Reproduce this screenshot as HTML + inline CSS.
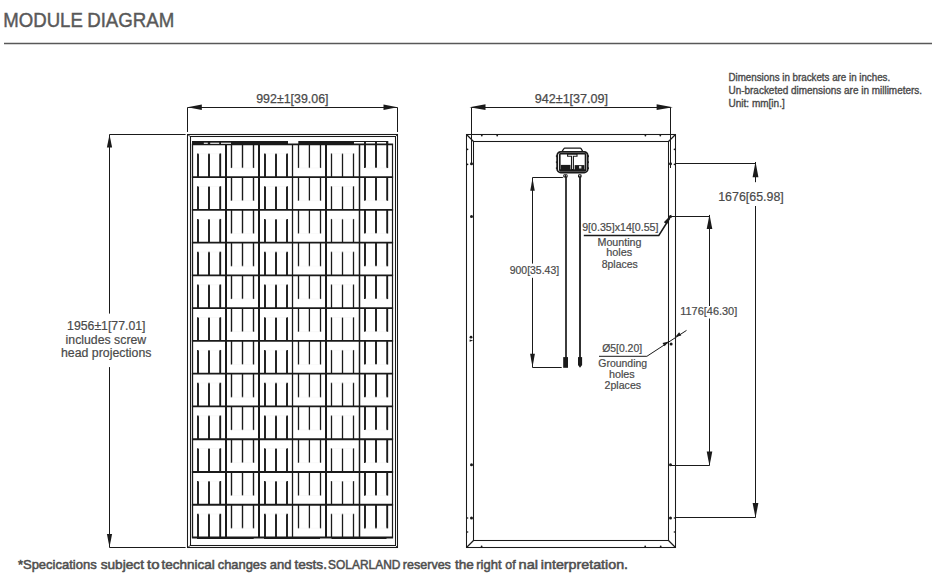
<!DOCTYPE html>
<html><head><meta charset="utf-8"><style>
html,body{margin:0;padding:0;background:#fff;}
body{width:939px;height:580px;overflow:hidden;position:relative;font-family:"Liberation Sans",sans-serif;}
svg{position:absolute;left:0;top:0;font-family:"Liberation Sans",sans-serif;}
</style></head><body>
<svg width="939" height="580" viewBox="0 0 939 580">
<line x1="4.00" y1="43.50" x2="932.00" y2="43.50" stroke="#585858" stroke-width="1.35"/>
<rect x="187.5" y="134.5" width="210.0" height="413.0" fill="none" stroke="#1a1a1a" stroke-width="1.05"/>
<rect x="190.5" y="136.5" width="205.0" height="409.0" fill="none" stroke="#1a1a1a" stroke-width="1.05"/>
<line x1="187.50" y1="134.50" x2="191.00" y2="137.00" stroke="#1a1a1a" stroke-width="0.8"/>
<line x1="397.50" y1="134.50" x2="395.00" y2="137.00" stroke="#1a1a1a" stroke-width="0.8"/>
<line x1="187.50" y1="547.50" x2="191.00" y2="545.00" stroke="#1a1a1a" stroke-width="0.8"/>
<line x1="397.50" y1="547.50" x2="395.00" y2="545.00" stroke="#1a1a1a" stroke-width="0.8"/>
<line x1="191.90" y1="144.40" x2="393.10" y2="144.40" stroke="#1a1a1a" stroke-width="1.8"/>
<line x1="191.90" y1="177.16" x2="393.10" y2="177.16" stroke="#1a1a1a" stroke-width="1.8"/>
<line x1="191.90" y1="209.92" x2="393.10" y2="209.92" stroke="#1a1a1a" stroke-width="1.8"/>
<line x1="191.90" y1="242.68" x2="393.10" y2="242.68" stroke="#1a1a1a" stroke-width="1.8"/>
<line x1="191.90" y1="275.43" x2="393.10" y2="275.43" stroke="#1a1a1a" stroke-width="1.8"/>
<line x1="191.90" y1="308.19" x2="393.10" y2="308.19" stroke="#1a1a1a" stroke-width="1.8"/>
<line x1="191.90" y1="340.95" x2="393.10" y2="340.95" stroke="#1a1a1a" stroke-width="1.8"/>
<line x1="191.90" y1="373.71" x2="393.10" y2="373.71" stroke="#1a1a1a" stroke-width="1.8"/>
<line x1="191.90" y1="406.47" x2="393.10" y2="406.47" stroke="#1a1a1a" stroke-width="1.8"/>
<line x1="191.90" y1="439.23" x2="393.10" y2="439.23" stroke="#1a1a1a" stroke-width="1.8"/>
<line x1="191.90" y1="471.98" x2="393.10" y2="471.98" stroke="#1a1a1a" stroke-width="1.8"/>
<line x1="191.90" y1="504.74" x2="393.10" y2="504.74" stroke="#1a1a1a" stroke-width="1.8"/>
<line x1="191.90" y1="537.50" x2="393.10" y2="537.50" stroke="#1a1a1a" stroke-width="1.8"/>
<line x1="192.50" y1="144.40" x2="192.50" y2="537.50" stroke="#1a1a1a" stroke-width="1.3"/>
<line x1="226.00" y1="144.40" x2="226.00" y2="537.50" stroke="#1a1a1a" stroke-width="2.0"/>
<line x1="259.00" y1="144.40" x2="259.00" y2="537.50" stroke="#1a1a1a" stroke-width="2.0"/>
<line x1="292.50" y1="144.40" x2="292.50" y2="537.50" stroke="#1a1a1a" stroke-width="1.3"/>
<line x1="326.00" y1="144.40" x2="326.00" y2="537.50" stroke="#1a1a1a" stroke-width="2.0"/>
<line x1="359.50" y1="144.40" x2="359.50" y2="537.50" stroke="#1a1a1a" stroke-width="1.5"/>
<line x1="392.50" y1="144.40" x2="392.50" y2="537.50" stroke="#1a1a1a" stroke-width="1.2"/>
<line x1="198.00" y1="153.40" x2="198.00" y2="177.16" stroke="#1a1a1a" stroke-width="1.9"/>
<line x1="209.00" y1="153.40" x2="209.00" y2="177.16" stroke="#1a1a1a" stroke-width="1.9"/>
<line x1="220.20" y1="153.40" x2="220.20" y2="177.16" stroke="#1a1a1a" stroke-width="1.9"/>
<line x1="198.00" y1="186.16" x2="198.00" y2="209.92" stroke="#1a1a1a" stroke-width="1.9"/>
<line x1="209.00" y1="186.16" x2="209.00" y2="209.92" stroke="#1a1a1a" stroke-width="1.9"/>
<line x1="220.20" y1="186.16" x2="220.20" y2="209.92" stroke="#1a1a1a" stroke-width="1.9"/>
<line x1="198.00" y1="218.92" x2="198.00" y2="242.68" stroke="#1a1a1a" stroke-width="1.9"/>
<line x1="209.00" y1="218.92" x2="209.00" y2="242.68" stroke="#1a1a1a" stroke-width="1.9"/>
<line x1="220.20" y1="218.92" x2="220.20" y2="242.68" stroke="#1a1a1a" stroke-width="1.9"/>
<line x1="198.00" y1="251.68" x2="198.00" y2="275.43" stroke="#1a1a1a" stroke-width="1.9"/>
<line x1="209.00" y1="251.68" x2="209.00" y2="275.43" stroke="#1a1a1a" stroke-width="1.9"/>
<line x1="220.20" y1="251.68" x2="220.20" y2="275.43" stroke="#1a1a1a" stroke-width="1.9"/>
<line x1="198.00" y1="284.43" x2="198.00" y2="308.19" stroke="#1a1a1a" stroke-width="1.9"/>
<line x1="209.00" y1="284.43" x2="209.00" y2="308.19" stroke="#1a1a1a" stroke-width="1.9"/>
<line x1="220.20" y1="284.43" x2="220.20" y2="308.19" stroke="#1a1a1a" stroke-width="1.9"/>
<line x1="198.00" y1="317.19" x2="198.00" y2="340.95" stroke="#1a1a1a" stroke-width="1.9"/>
<line x1="209.00" y1="317.19" x2="209.00" y2="340.95" stroke="#1a1a1a" stroke-width="1.9"/>
<line x1="220.20" y1="317.19" x2="220.20" y2="340.95" stroke="#1a1a1a" stroke-width="1.9"/>
<line x1="198.00" y1="349.95" x2="198.00" y2="373.71" stroke="#1a1a1a" stroke-width="1.9"/>
<line x1="209.00" y1="349.95" x2="209.00" y2="373.71" stroke="#1a1a1a" stroke-width="1.9"/>
<line x1="220.20" y1="349.95" x2="220.20" y2="373.71" stroke="#1a1a1a" stroke-width="1.9"/>
<line x1="198.00" y1="382.71" x2="198.00" y2="406.47" stroke="#1a1a1a" stroke-width="1.9"/>
<line x1="209.00" y1="382.71" x2="209.00" y2="406.47" stroke="#1a1a1a" stroke-width="1.9"/>
<line x1="220.20" y1="382.71" x2="220.20" y2="406.47" stroke="#1a1a1a" stroke-width="1.9"/>
<line x1="198.00" y1="415.47" x2="198.00" y2="439.23" stroke="#1a1a1a" stroke-width="1.9"/>
<line x1="209.00" y1="415.47" x2="209.00" y2="439.23" stroke="#1a1a1a" stroke-width="1.9"/>
<line x1="220.20" y1="415.47" x2="220.20" y2="439.23" stroke="#1a1a1a" stroke-width="1.9"/>
<line x1="198.00" y1="448.23" x2="198.00" y2="471.98" stroke="#1a1a1a" stroke-width="1.9"/>
<line x1="209.00" y1="448.23" x2="209.00" y2="471.98" stroke="#1a1a1a" stroke-width="1.9"/>
<line x1="220.20" y1="448.23" x2="220.20" y2="471.98" stroke="#1a1a1a" stroke-width="1.9"/>
<line x1="198.00" y1="480.98" x2="198.00" y2="504.74" stroke="#1a1a1a" stroke-width="1.9"/>
<line x1="209.00" y1="480.98" x2="209.00" y2="504.74" stroke="#1a1a1a" stroke-width="1.9"/>
<line x1="220.20" y1="480.98" x2="220.20" y2="504.74" stroke="#1a1a1a" stroke-width="1.9"/>
<line x1="198.00" y1="513.74" x2="198.00" y2="537.50" stroke="#1a1a1a" stroke-width="1.9"/>
<line x1="209.00" y1="513.74" x2="209.00" y2="537.50" stroke="#1a1a1a" stroke-width="1.9"/>
<line x1="220.20" y1="513.74" x2="220.20" y2="537.50" stroke="#1a1a1a" stroke-width="1.9"/>
<line x1="231.50" y1="144.40" x2="231.50" y2="168.06" stroke="#1a1a1a" stroke-width="1.4"/>
<line x1="242.50" y1="144.40" x2="242.50" y2="168.06" stroke="#1a1a1a" stroke-width="1.4"/>
<line x1="253.50" y1="144.40" x2="253.50" y2="168.06" stroke="#1a1a1a" stroke-width="1.4"/>
<line x1="231.50" y1="177.16" x2="231.50" y2="200.82" stroke="#1a1a1a" stroke-width="1.4"/>
<line x1="242.50" y1="177.16" x2="242.50" y2="200.82" stroke="#1a1a1a" stroke-width="1.4"/>
<line x1="253.50" y1="177.16" x2="253.50" y2="200.82" stroke="#1a1a1a" stroke-width="1.4"/>
<line x1="231.50" y1="209.92" x2="231.50" y2="233.58" stroke="#1a1a1a" stroke-width="1.4"/>
<line x1="242.50" y1="209.92" x2="242.50" y2="233.58" stroke="#1a1a1a" stroke-width="1.4"/>
<line x1="253.50" y1="209.92" x2="253.50" y2="233.58" stroke="#1a1a1a" stroke-width="1.4"/>
<line x1="231.50" y1="242.68" x2="231.50" y2="266.33" stroke="#1a1a1a" stroke-width="1.4"/>
<line x1="242.50" y1="242.68" x2="242.50" y2="266.33" stroke="#1a1a1a" stroke-width="1.4"/>
<line x1="253.50" y1="242.68" x2="253.50" y2="266.33" stroke="#1a1a1a" stroke-width="1.4"/>
<line x1="231.50" y1="275.43" x2="231.50" y2="299.09" stroke="#1a1a1a" stroke-width="1.4"/>
<line x1="242.50" y1="275.43" x2="242.50" y2="299.09" stroke="#1a1a1a" stroke-width="1.4"/>
<line x1="253.50" y1="275.43" x2="253.50" y2="299.09" stroke="#1a1a1a" stroke-width="1.4"/>
<line x1="231.50" y1="308.19" x2="231.50" y2="331.85" stroke="#1a1a1a" stroke-width="1.4"/>
<line x1="242.50" y1="308.19" x2="242.50" y2="331.85" stroke="#1a1a1a" stroke-width="1.4"/>
<line x1="253.50" y1="308.19" x2="253.50" y2="331.85" stroke="#1a1a1a" stroke-width="1.4"/>
<line x1="231.50" y1="340.95" x2="231.50" y2="364.61" stroke="#1a1a1a" stroke-width="1.4"/>
<line x1="242.50" y1="340.95" x2="242.50" y2="364.61" stroke="#1a1a1a" stroke-width="1.4"/>
<line x1="253.50" y1="340.95" x2="253.50" y2="364.61" stroke="#1a1a1a" stroke-width="1.4"/>
<line x1="231.50" y1="373.71" x2="231.50" y2="397.37" stroke="#1a1a1a" stroke-width="1.4"/>
<line x1="242.50" y1="373.71" x2="242.50" y2="397.37" stroke="#1a1a1a" stroke-width="1.4"/>
<line x1="253.50" y1="373.71" x2="253.50" y2="397.37" stroke="#1a1a1a" stroke-width="1.4"/>
<line x1="231.50" y1="406.47" x2="231.50" y2="430.12" stroke="#1a1a1a" stroke-width="1.4"/>
<line x1="242.50" y1="406.47" x2="242.50" y2="430.12" stroke="#1a1a1a" stroke-width="1.4"/>
<line x1="253.50" y1="406.47" x2="253.50" y2="430.12" stroke="#1a1a1a" stroke-width="1.4"/>
<line x1="231.50" y1="439.23" x2="231.50" y2="462.88" stroke="#1a1a1a" stroke-width="1.4"/>
<line x1="242.50" y1="439.23" x2="242.50" y2="462.88" stroke="#1a1a1a" stroke-width="1.4"/>
<line x1="253.50" y1="439.23" x2="253.50" y2="462.88" stroke="#1a1a1a" stroke-width="1.4"/>
<line x1="231.50" y1="471.98" x2="231.50" y2="495.64" stroke="#1a1a1a" stroke-width="1.4"/>
<line x1="242.50" y1="471.98" x2="242.50" y2="495.64" stroke="#1a1a1a" stroke-width="1.4"/>
<line x1="253.50" y1="471.98" x2="253.50" y2="495.64" stroke="#1a1a1a" stroke-width="1.4"/>
<line x1="231.50" y1="504.74" x2="231.50" y2="528.40" stroke="#1a1a1a" stroke-width="1.4"/>
<line x1="242.50" y1="504.74" x2="242.50" y2="528.40" stroke="#1a1a1a" stroke-width="1.4"/>
<line x1="253.50" y1="504.74" x2="253.50" y2="528.40" stroke="#1a1a1a" stroke-width="1.4"/>
<line x1="265.00" y1="153.40" x2="265.00" y2="177.16" stroke="#1a1a1a" stroke-width="1.9"/>
<line x1="276.00" y1="153.40" x2="276.00" y2="177.16" stroke="#1a1a1a" stroke-width="1.9"/>
<line x1="287.00" y1="153.40" x2="287.00" y2="177.16" stroke="#1a1a1a" stroke-width="1.9"/>
<line x1="265.00" y1="186.16" x2="265.00" y2="209.92" stroke="#1a1a1a" stroke-width="1.9"/>
<line x1="276.00" y1="186.16" x2="276.00" y2="209.92" stroke="#1a1a1a" stroke-width="1.9"/>
<line x1="287.00" y1="186.16" x2="287.00" y2="209.92" stroke="#1a1a1a" stroke-width="1.9"/>
<line x1="265.00" y1="218.92" x2="265.00" y2="242.68" stroke="#1a1a1a" stroke-width="1.9"/>
<line x1="276.00" y1="218.92" x2="276.00" y2="242.68" stroke="#1a1a1a" stroke-width="1.9"/>
<line x1="287.00" y1="218.92" x2="287.00" y2="242.68" stroke="#1a1a1a" stroke-width="1.9"/>
<line x1="265.00" y1="251.68" x2="265.00" y2="275.43" stroke="#1a1a1a" stroke-width="1.9"/>
<line x1="276.00" y1="251.68" x2="276.00" y2="275.43" stroke="#1a1a1a" stroke-width="1.9"/>
<line x1="287.00" y1="251.68" x2="287.00" y2="275.43" stroke="#1a1a1a" stroke-width="1.9"/>
<line x1="265.00" y1="284.43" x2="265.00" y2="308.19" stroke="#1a1a1a" stroke-width="1.9"/>
<line x1="276.00" y1="284.43" x2="276.00" y2="308.19" stroke="#1a1a1a" stroke-width="1.9"/>
<line x1="287.00" y1="284.43" x2="287.00" y2="308.19" stroke="#1a1a1a" stroke-width="1.9"/>
<line x1="265.00" y1="317.19" x2="265.00" y2="340.95" stroke="#1a1a1a" stroke-width="1.9"/>
<line x1="276.00" y1="317.19" x2="276.00" y2="340.95" stroke="#1a1a1a" stroke-width="1.9"/>
<line x1="287.00" y1="317.19" x2="287.00" y2="340.95" stroke="#1a1a1a" stroke-width="1.9"/>
<line x1="265.00" y1="349.95" x2="265.00" y2="373.71" stroke="#1a1a1a" stroke-width="1.9"/>
<line x1="276.00" y1="349.95" x2="276.00" y2="373.71" stroke="#1a1a1a" stroke-width="1.9"/>
<line x1="287.00" y1="349.95" x2="287.00" y2="373.71" stroke="#1a1a1a" stroke-width="1.9"/>
<line x1="265.00" y1="382.71" x2="265.00" y2="406.47" stroke="#1a1a1a" stroke-width="1.9"/>
<line x1="276.00" y1="382.71" x2="276.00" y2="406.47" stroke="#1a1a1a" stroke-width="1.9"/>
<line x1="287.00" y1="382.71" x2="287.00" y2="406.47" stroke="#1a1a1a" stroke-width="1.9"/>
<line x1="265.00" y1="415.47" x2="265.00" y2="439.23" stroke="#1a1a1a" stroke-width="1.9"/>
<line x1="276.00" y1="415.47" x2="276.00" y2="439.23" stroke="#1a1a1a" stroke-width="1.9"/>
<line x1="287.00" y1="415.47" x2="287.00" y2="439.23" stroke="#1a1a1a" stroke-width="1.9"/>
<line x1="265.00" y1="448.23" x2="265.00" y2="471.98" stroke="#1a1a1a" stroke-width="1.9"/>
<line x1="276.00" y1="448.23" x2="276.00" y2="471.98" stroke="#1a1a1a" stroke-width="1.9"/>
<line x1="287.00" y1="448.23" x2="287.00" y2="471.98" stroke="#1a1a1a" stroke-width="1.9"/>
<line x1="265.00" y1="480.98" x2="265.00" y2="504.74" stroke="#1a1a1a" stroke-width="1.9"/>
<line x1="276.00" y1="480.98" x2="276.00" y2="504.74" stroke="#1a1a1a" stroke-width="1.9"/>
<line x1="287.00" y1="480.98" x2="287.00" y2="504.74" stroke="#1a1a1a" stroke-width="1.9"/>
<line x1="265.00" y1="513.74" x2="265.00" y2="537.50" stroke="#1a1a1a" stroke-width="1.9"/>
<line x1="276.00" y1="513.74" x2="276.00" y2="537.50" stroke="#1a1a1a" stroke-width="1.9"/>
<line x1="287.00" y1="513.74" x2="287.00" y2="537.50" stroke="#1a1a1a" stroke-width="1.9"/>
<line x1="298.50" y1="144.40" x2="298.50" y2="168.06" stroke="#1a1a1a" stroke-width="1.3"/>
<line x1="309.40" y1="144.40" x2="309.40" y2="168.06" stroke="#1a1a1a" stroke-width="1.3"/>
<line x1="320.50" y1="144.40" x2="320.50" y2="168.06" stroke="#1a1a1a" stroke-width="1.3"/>
<line x1="298.50" y1="177.16" x2="298.50" y2="200.82" stroke="#1a1a1a" stroke-width="1.3"/>
<line x1="309.40" y1="177.16" x2="309.40" y2="200.82" stroke="#1a1a1a" stroke-width="1.3"/>
<line x1="320.50" y1="177.16" x2="320.50" y2="200.82" stroke="#1a1a1a" stroke-width="1.3"/>
<line x1="298.50" y1="209.92" x2="298.50" y2="233.58" stroke="#1a1a1a" stroke-width="1.3"/>
<line x1="309.40" y1="209.92" x2="309.40" y2="233.58" stroke="#1a1a1a" stroke-width="1.3"/>
<line x1="320.50" y1="209.92" x2="320.50" y2="233.58" stroke="#1a1a1a" stroke-width="1.3"/>
<line x1="298.50" y1="242.68" x2="298.50" y2="266.33" stroke="#1a1a1a" stroke-width="1.3"/>
<line x1="309.40" y1="242.68" x2="309.40" y2="266.33" stroke="#1a1a1a" stroke-width="1.3"/>
<line x1="320.50" y1="242.68" x2="320.50" y2="266.33" stroke="#1a1a1a" stroke-width="1.3"/>
<line x1="298.50" y1="275.43" x2="298.50" y2="299.09" stroke="#1a1a1a" stroke-width="1.3"/>
<line x1="309.40" y1="275.43" x2="309.40" y2="299.09" stroke="#1a1a1a" stroke-width="1.3"/>
<line x1="320.50" y1="275.43" x2="320.50" y2="299.09" stroke="#1a1a1a" stroke-width="1.3"/>
<line x1="298.50" y1="308.19" x2="298.50" y2="331.85" stroke="#1a1a1a" stroke-width="1.3"/>
<line x1="309.40" y1="308.19" x2="309.40" y2="331.85" stroke="#1a1a1a" stroke-width="1.3"/>
<line x1="320.50" y1="308.19" x2="320.50" y2="331.85" stroke="#1a1a1a" stroke-width="1.3"/>
<line x1="298.50" y1="340.95" x2="298.50" y2="364.61" stroke="#1a1a1a" stroke-width="1.3"/>
<line x1="309.40" y1="340.95" x2="309.40" y2="364.61" stroke="#1a1a1a" stroke-width="1.3"/>
<line x1="320.50" y1="340.95" x2="320.50" y2="364.61" stroke="#1a1a1a" stroke-width="1.3"/>
<line x1="298.50" y1="373.71" x2="298.50" y2="397.37" stroke="#1a1a1a" stroke-width="1.3"/>
<line x1="309.40" y1="373.71" x2="309.40" y2="397.37" stroke="#1a1a1a" stroke-width="1.3"/>
<line x1="320.50" y1="373.71" x2="320.50" y2="397.37" stroke="#1a1a1a" stroke-width="1.3"/>
<line x1="298.50" y1="406.47" x2="298.50" y2="430.12" stroke="#1a1a1a" stroke-width="1.3"/>
<line x1="309.40" y1="406.47" x2="309.40" y2="430.12" stroke="#1a1a1a" stroke-width="1.3"/>
<line x1="320.50" y1="406.47" x2="320.50" y2="430.12" stroke="#1a1a1a" stroke-width="1.3"/>
<line x1="298.50" y1="439.23" x2="298.50" y2="462.88" stroke="#1a1a1a" stroke-width="1.3"/>
<line x1="309.40" y1="439.23" x2="309.40" y2="462.88" stroke="#1a1a1a" stroke-width="1.3"/>
<line x1="320.50" y1="439.23" x2="320.50" y2="462.88" stroke="#1a1a1a" stroke-width="1.3"/>
<line x1="298.50" y1="471.98" x2="298.50" y2="495.64" stroke="#1a1a1a" stroke-width="1.3"/>
<line x1="309.40" y1="471.98" x2="309.40" y2="495.64" stroke="#1a1a1a" stroke-width="1.3"/>
<line x1="320.50" y1="471.98" x2="320.50" y2="495.64" stroke="#1a1a1a" stroke-width="1.3"/>
<line x1="298.50" y1="504.74" x2="298.50" y2="528.40" stroke="#1a1a1a" stroke-width="1.3"/>
<line x1="309.40" y1="504.74" x2="309.40" y2="528.40" stroke="#1a1a1a" stroke-width="1.3"/>
<line x1="320.50" y1="504.74" x2="320.50" y2="528.40" stroke="#1a1a1a" stroke-width="1.3"/>
<line x1="331.50" y1="153.40" x2="331.50" y2="177.16" stroke="#1a1a1a" stroke-width="1.3"/>
<line x1="342.50" y1="153.40" x2="342.50" y2="177.16" stroke="#1a1a1a" stroke-width="1.3"/>
<line x1="353.50" y1="153.40" x2="353.50" y2="177.16" stroke="#1a1a1a" stroke-width="1.3"/>
<line x1="331.50" y1="186.16" x2="331.50" y2="209.92" stroke="#1a1a1a" stroke-width="1.3"/>
<line x1="342.50" y1="186.16" x2="342.50" y2="209.92" stroke="#1a1a1a" stroke-width="1.3"/>
<line x1="353.50" y1="186.16" x2="353.50" y2="209.92" stroke="#1a1a1a" stroke-width="1.3"/>
<line x1="331.50" y1="218.92" x2="331.50" y2="242.68" stroke="#1a1a1a" stroke-width="1.3"/>
<line x1="342.50" y1="218.92" x2="342.50" y2="242.68" stroke="#1a1a1a" stroke-width="1.3"/>
<line x1="353.50" y1="218.92" x2="353.50" y2="242.68" stroke="#1a1a1a" stroke-width="1.3"/>
<line x1="331.50" y1="251.68" x2="331.50" y2="275.43" stroke="#1a1a1a" stroke-width="1.3"/>
<line x1="342.50" y1="251.68" x2="342.50" y2="275.43" stroke="#1a1a1a" stroke-width="1.3"/>
<line x1="353.50" y1="251.68" x2="353.50" y2="275.43" stroke="#1a1a1a" stroke-width="1.3"/>
<line x1="331.50" y1="284.43" x2="331.50" y2="308.19" stroke="#1a1a1a" stroke-width="1.3"/>
<line x1="342.50" y1="284.43" x2="342.50" y2="308.19" stroke="#1a1a1a" stroke-width="1.3"/>
<line x1="353.50" y1="284.43" x2="353.50" y2="308.19" stroke="#1a1a1a" stroke-width="1.3"/>
<line x1="331.50" y1="317.19" x2="331.50" y2="340.95" stroke="#1a1a1a" stroke-width="1.3"/>
<line x1="342.50" y1="317.19" x2="342.50" y2="340.95" stroke="#1a1a1a" stroke-width="1.3"/>
<line x1="353.50" y1="317.19" x2="353.50" y2="340.95" stroke="#1a1a1a" stroke-width="1.3"/>
<line x1="331.50" y1="349.95" x2="331.50" y2="373.71" stroke="#1a1a1a" stroke-width="1.3"/>
<line x1="342.50" y1="349.95" x2="342.50" y2="373.71" stroke="#1a1a1a" stroke-width="1.3"/>
<line x1="353.50" y1="349.95" x2="353.50" y2="373.71" stroke="#1a1a1a" stroke-width="1.3"/>
<line x1="331.50" y1="382.71" x2="331.50" y2="406.47" stroke="#1a1a1a" stroke-width="1.3"/>
<line x1="342.50" y1="382.71" x2="342.50" y2="406.47" stroke="#1a1a1a" stroke-width="1.3"/>
<line x1="353.50" y1="382.71" x2="353.50" y2="406.47" stroke="#1a1a1a" stroke-width="1.3"/>
<line x1="331.50" y1="415.47" x2="331.50" y2="439.23" stroke="#1a1a1a" stroke-width="1.3"/>
<line x1="342.50" y1="415.47" x2="342.50" y2="439.23" stroke="#1a1a1a" stroke-width="1.3"/>
<line x1="353.50" y1="415.47" x2="353.50" y2="439.23" stroke="#1a1a1a" stroke-width="1.3"/>
<line x1="331.50" y1="448.23" x2="331.50" y2="471.98" stroke="#1a1a1a" stroke-width="1.3"/>
<line x1="342.50" y1="448.23" x2="342.50" y2="471.98" stroke="#1a1a1a" stroke-width="1.3"/>
<line x1="353.50" y1="448.23" x2="353.50" y2="471.98" stroke="#1a1a1a" stroke-width="1.3"/>
<line x1="331.50" y1="480.98" x2="331.50" y2="504.74" stroke="#1a1a1a" stroke-width="1.3"/>
<line x1="342.50" y1="480.98" x2="342.50" y2="504.74" stroke="#1a1a1a" stroke-width="1.3"/>
<line x1="353.50" y1="480.98" x2="353.50" y2="504.74" stroke="#1a1a1a" stroke-width="1.3"/>
<line x1="331.50" y1="513.74" x2="331.50" y2="537.50" stroke="#1a1a1a" stroke-width="1.3"/>
<line x1="342.50" y1="513.74" x2="342.50" y2="537.50" stroke="#1a1a1a" stroke-width="1.3"/>
<line x1="353.50" y1="513.74" x2="353.50" y2="537.50" stroke="#1a1a1a" stroke-width="1.3"/>
<line x1="365.00" y1="144.40" x2="365.00" y2="168.06" stroke="#1a1a1a" stroke-width="1.9"/>
<line x1="376.00" y1="144.40" x2="376.00" y2="168.06" stroke="#1a1a1a" stroke-width="1.9"/>
<line x1="387.20" y1="144.40" x2="387.20" y2="168.06" stroke="#1a1a1a" stroke-width="1.9"/>
<line x1="365.00" y1="177.16" x2="365.00" y2="200.82" stroke="#1a1a1a" stroke-width="1.9"/>
<line x1="376.00" y1="177.16" x2="376.00" y2="200.82" stroke="#1a1a1a" stroke-width="1.9"/>
<line x1="387.20" y1="177.16" x2="387.20" y2="200.82" stroke="#1a1a1a" stroke-width="1.9"/>
<line x1="365.00" y1="209.92" x2="365.00" y2="233.58" stroke="#1a1a1a" stroke-width="1.9"/>
<line x1="376.00" y1="209.92" x2="376.00" y2="233.58" stroke="#1a1a1a" stroke-width="1.9"/>
<line x1="387.20" y1="209.92" x2="387.20" y2="233.58" stroke="#1a1a1a" stroke-width="1.9"/>
<line x1="365.00" y1="242.68" x2="365.00" y2="266.33" stroke="#1a1a1a" stroke-width="1.9"/>
<line x1="376.00" y1="242.68" x2="376.00" y2="266.33" stroke="#1a1a1a" stroke-width="1.9"/>
<line x1="387.20" y1="242.68" x2="387.20" y2="266.33" stroke="#1a1a1a" stroke-width="1.9"/>
<line x1="365.00" y1="275.43" x2="365.00" y2="299.09" stroke="#1a1a1a" stroke-width="1.9"/>
<line x1="376.00" y1="275.43" x2="376.00" y2="299.09" stroke="#1a1a1a" stroke-width="1.9"/>
<line x1="387.20" y1="275.43" x2="387.20" y2="299.09" stroke="#1a1a1a" stroke-width="1.9"/>
<line x1="365.00" y1="308.19" x2="365.00" y2="331.85" stroke="#1a1a1a" stroke-width="1.9"/>
<line x1="376.00" y1="308.19" x2="376.00" y2="331.85" stroke="#1a1a1a" stroke-width="1.9"/>
<line x1="387.20" y1="308.19" x2="387.20" y2="331.85" stroke="#1a1a1a" stroke-width="1.9"/>
<line x1="365.00" y1="340.95" x2="365.00" y2="364.61" stroke="#1a1a1a" stroke-width="1.9"/>
<line x1="376.00" y1="340.95" x2="376.00" y2="364.61" stroke="#1a1a1a" stroke-width="1.9"/>
<line x1="387.20" y1="340.95" x2="387.20" y2="364.61" stroke="#1a1a1a" stroke-width="1.9"/>
<line x1="365.00" y1="373.71" x2="365.00" y2="397.37" stroke="#1a1a1a" stroke-width="1.9"/>
<line x1="376.00" y1="373.71" x2="376.00" y2="397.37" stroke="#1a1a1a" stroke-width="1.9"/>
<line x1="387.20" y1="373.71" x2="387.20" y2="397.37" stroke="#1a1a1a" stroke-width="1.9"/>
<line x1="365.00" y1="406.47" x2="365.00" y2="430.12" stroke="#1a1a1a" stroke-width="1.9"/>
<line x1="376.00" y1="406.47" x2="376.00" y2="430.12" stroke="#1a1a1a" stroke-width="1.9"/>
<line x1="387.20" y1="406.47" x2="387.20" y2="430.12" stroke="#1a1a1a" stroke-width="1.9"/>
<line x1="365.00" y1="439.23" x2="365.00" y2="462.88" stroke="#1a1a1a" stroke-width="1.9"/>
<line x1="376.00" y1="439.23" x2="376.00" y2="462.88" stroke="#1a1a1a" stroke-width="1.9"/>
<line x1="387.20" y1="439.23" x2="387.20" y2="462.88" stroke="#1a1a1a" stroke-width="1.9"/>
<line x1="365.00" y1="471.98" x2="365.00" y2="495.64" stroke="#1a1a1a" stroke-width="1.9"/>
<line x1="376.00" y1="471.98" x2="376.00" y2="495.64" stroke="#1a1a1a" stroke-width="1.9"/>
<line x1="387.20" y1="471.98" x2="387.20" y2="495.64" stroke="#1a1a1a" stroke-width="1.9"/>
<line x1="365.00" y1="504.74" x2="365.00" y2="528.40" stroke="#1a1a1a" stroke-width="1.9"/>
<line x1="376.00" y1="504.74" x2="376.00" y2="528.40" stroke="#1a1a1a" stroke-width="1.9"/>
<line x1="387.20" y1="504.74" x2="387.20" y2="528.40" stroke="#1a1a1a" stroke-width="1.9"/>
<line x1="198.00" y1="153.70" x2="220.20" y2="153.70" stroke="#f3f3f3" stroke-width="0.5"/>
<line x1="198.00" y1="186.46" x2="220.20" y2="186.46" stroke="#f3f3f3" stroke-width="0.5"/>
<line x1="198.00" y1="219.22" x2="220.20" y2="219.22" stroke="#f3f3f3" stroke-width="0.5"/>
<line x1="198.00" y1="251.98" x2="220.20" y2="251.98" stroke="#f3f3f3" stroke-width="0.5"/>
<line x1="198.00" y1="284.73" x2="220.20" y2="284.73" stroke="#f3f3f3" stroke-width="0.5"/>
<line x1="198.00" y1="317.49" x2="220.20" y2="317.49" stroke="#f3f3f3" stroke-width="0.5"/>
<line x1="198.00" y1="350.25" x2="220.20" y2="350.25" stroke="#f3f3f3" stroke-width="0.5"/>
<line x1="198.00" y1="383.01" x2="220.20" y2="383.01" stroke="#f3f3f3" stroke-width="0.5"/>
<line x1="198.00" y1="415.77" x2="220.20" y2="415.77" stroke="#f3f3f3" stroke-width="0.5"/>
<line x1="198.00" y1="448.53" x2="220.20" y2="448.53" stroke="#f3f3f3" stroke-width="0.5"/>
<line x1="198.00" y1="481.28" x2="220.20" y2="481.28" stroke="#f3f3f3" stroke-width="0.5"/>
<line x1="198.00" y1="514.04" x2="220.20" y2="514.04" stroke="#f3f3f3" stroke-width="0.5"/>
<line x1="231.50" y1="167.86" x2="253.50" y2="167.86" stroke="#f3f3f3" stroke-width="0.5"/>
<line x1="231.50" y1="200.62" x2="253.50" y2="200.62" stroke="#f3f3f3" stroke-width="0.5"/>
<line x1="231.50" y1="233.38" x2="253.50" y2="233.38" stroke="#f3f3f3" stroke-width="0.5"/>
<line x1="231.50" y1="266.13" x2="253.50" y2="266.13" stroke="#f3f3f3" stroke-width="0.5"/>
<line x1="231.50" y1="298.89" x2="253.50" y2="298.89" stroke="#f3f3f3" stroke-width="0.5"/>
<line x1="231.50" y1="331.65" x2="253.50" y2="331.65" stroke="#f3f3f3" stroke-width="0.5"/>
<line x1="231.50" y1="364.41" x2="253.50" y2="364.41" stroke="#f3f3f3" stroke-width="0.5"/>
<line x1="231.50" y1="397.17" x2="253.50" y2="397.17" stroke="#f3f3f3" stroke-width="0.5"/>
<line x1="231.50" y1="429.93" x2="253.50" y2="429.93" stroke="#f3f3f3" stroke-width="0.5"/>
<line x1="231.50" y1="462.68" x2="253.50" y2="462.68" stroke="#f3f3f3" stroke-width="0.5"/>
<line x1="231.50" y1="495.44" x2="253.50" y2="495.44" stroke="#f3f3f3" stroke-width="0.5"/>
<line x1="231.50" y1="528.20" x2="253.50" y2="528.20" stroke="#f3f3f3" stroke-width="0.5"/>
<line x1="265.00" y1="153.70" x2="287.00" y2="153.70" stroke="#f3f3f3" stroke-width="0.5"/>
<line x1="265.00" y1="186.46" x2="287.00" y2="186.46" stroke="#f3f3f3" stroke-width="0.5"/>
<line x1="265.00" y1="219.22" x2="287.00" y2="219.22" stroke="#f3f3f3" stroke-width="0.5"/>
<line x1="265.00" y1="251.98" x2="287.00" y2="251.98" stroke="#f3f3f3" stroke-width="0.5"/>
<line x1="265.00" y1="284.73" x2="287.00" y2="284.73" stroke="#f3f3f3" stroke-width="0.5"/>
<line x1="265.00" y1="317.49" x2="287.00" y2="317.49" stroke="#f3f3f3" stroke-width="0.5"/>
<line x1="265.00" y1="350.25" x2="287.00" y2="350.25" stroke="#f3f3f3" stroke-width="0.5"/>
<line x1="265.00" y1="383.01" x2="287.00" y2="383.01" stroke="#f3f3f3" stroke-width="0.5"/>
<line x1="265.00" y1="415.77" x2="287.00" y2="415.77" stroke="#f3f3f3" stroke-width="0.5"/>
<line x1="265.00" y1="448.53" x2="287.00" y2="448.53" stroke="#f3f3f3" stroke-width="0.5"/>
<line x1="265.00" y1="481.28" x2="287.00" y2="481.28" stroke="#f3f3f3" stroke-width="0.5"/>
<line x1="265.00" y1="514.04" x2="287.00" y2="514.04" stroke="#f3f3f3" stroke-width="0.5"/>
<line x1="298.50" y1="167.86" x2="320.50" y2="167.86" stroke="#f3f3f3" stroke-width="0.5"/>
<line x1="298.50" y1="200.62" x2="320.50" y2="200.62" stroke="#f3f3f3" stroke-width="0.5"/>
<line x1="298.50" y1="233.38" x2="320.50" y2="233.38" stroke="#f3f3f3" stroke-width="0.5"/>
<line x1="298.50" y1="266.13" x2="320.50" y2="266.13" stroke="#f3f3f3" stroke-width="0.5"/>
<line x1="298.50" y1="298.89" x2="320.50" y2="298.89" stroke="#f3f3f3" stroke-width="0.5"/>
<line x1="298.50" y1="331.65" x2="320.50" y2="331.65" stroke="#f3f3f3" stroke-width="0.5"/>
<line x1="298.50" y1="364.41" x2="320.50" y2="364.41" stroke="#f3f3f3" stroke-width="0.5"/>
<line x1="298.50" y1="397.17" x2="320.50" y2="397.17" stroke="#f3f3f3" stroke-width="0.5"/>
<line x1="298.50" y1="429.93" x2="320.50" y2="429.93" stroke="#f3f3f3" stroke-width="0.5"/>
<line x1="298.50" y1="462.68" x2="320.50" y2="462.68" stroke="#f3f3f3" stroke-width="0.5"/>
<line x1="298.50" y1="495.44" x2="320.50" y2="495.44" stroke="#f3f3f3" stroke-width="0.5"/>
<line x1="298.50" y1="528.20" x2="320.50" y2="528.20" stroke="#f3f3f3" stroke-width="0.5"/>
<line x1="331.50" y1="153.70" x2="353.50" y2="153.70" stroke="#f3f3f3" stroke-width="0.5"/>
<line x1="331.50" y1="186.46" x2="353.50" y2="186.46" stroke="#f3f3f3" stroke-width="0.5"/>
<line x1="331.50" y1="219.22" x2="353.50" y2="219.22" stroke="#f3f3f3" stroke-width="0.5"/>
<line x1="331.50" y1="251.98" x2="353.50" y2="251.98" stroke="#f3f3f3" stroke-width="0.5"/>
<line x1="331.50" y1="284.73" x2="353.50" y2="284.73" stroke="#f3f3f3" stroke-width="0.5"/>
<line x1="331.50" y1="317.49" x2="353.50" y2="317.49" stroke="#f3f3f3" stroke-width="0.5"/>
<line x1="331.50" y1="350.25" x2="353.50" y2="350.25" stroke="#f3f3f3" stroke-width="0.5"/>
<line x1="331.50" y1="383.01" x2="353.50" y2="383.01" stroke="#f3f3f3" stroke-width="0.5"/>
<line x1="331.50" y1="415.77" x2="353.50" y2="415.77" stroke="#f3f3f3" stroke-width="0.5"/>
<line x1="331.50" y1="448.53" x2="353.50" y2="448.53" stroke="#f3f3f3" stroke-width="0.5"/>
<line x1="331.50" y1="481.28" x2="353.50" y2="481.28" stroke="#f3f3f3" stroke-width="0.5"/>
<line x1="331.50" y1="514.04" x2="353.50" y2="514.04" stroke="#f3f3f3" stroke-width="0.5"/>
<line x1="365.00" y1="167.86" x2="387.20" y2="167.86" stroke="#f3f3f3" stroke-width="0.5"/>
<line x1="365.00" y1="200.62" x2="387.20" y2="200.62" stroke="#f3f3f3" stroke-width="0.5"/>
<line x1="365.00" y1="233.38" x2="387.20" y2="233.38" stroke="#f3f3f3" stroke-width="0.5"/>
<line x1="365.00" y1="266.13" x2="387.20" y2="266.13" stroke="#f3f3f3" stroke-width="0.5"/>
<line x1="365.00" y1="298.89" x2="387.20" y2="298.89" stroke="#f3f3f3" stroke-width="0.5"/>
<line x1="365.00" y1="331.65" x2="387.20" y2="331.65" stroke="#f3f3f3" stroke-width="0.5"/>
<line x1="365.00" y1="364.41" x2="387.20" y2="364.41" stroke="#f3f3f3" stroke-width="0.5"/>
<line x1="365.00" y1="397.17" x2="387.20" y2="397.17" stroke="#f3f3f3" stroke-width="0.5"/>
<line x1="365.00" y1="429.93" x2="387.20" y2="429.93" stroke="#f3f3f3" stroke-width="0.5"/>
<line x1="365.00" y1="462.68" x2="387.20" y2="462.68" stroke="#f3f3f3" stroke-width="0.5"/>
<line x1="365.00" y1="495.44" x2="387.20" y2="495.44" stroke="#f3f3f3" stroke-width="0.5"/>
<line x1="365.00" y1="528.20" x2="387.20" y2="528.20" stroke="#f3f3f3" stroke-width="0.5"/>
<rect x="192.00" y="141.00" width="96.00" height="3.60" fill="#1a1a1a"/>
<rect x="298.30" y="141.00" width="55.70" height="3.60" fill="#1a1a1a"/>
<line x1="354.00" y1="141.50" x2="387.50" y2="141.50" stroke="#1a1a1a" stroke-width="1.0"/>
<line x1="387.20" y1="141.00" x2="387.20" y2="144.50" stroke="#1a1a1a" stroke-width="1.9"/>
<line x1="365.00" y1="141.00" x2="365.00" y2="144.50" stroke="#1a1a1a" stroke-width="1.9"/>
<line x1="376.00" y1="141.00" x2="376.00" y2="144.50" stroke="#1a1a1a" stroke-width="1.9"/>
<line x1="387.20" y1="141.00" x2="387.20" y2="144.50" stroke="#1a1a1a" stroke-width="1.9"/>
<rect x="203.80" y="142.70" width="4.00" height="1.10" fill="#fff"/>
<rect x="210.20" y="142.70" width="9.00" height="1.10" fill="#fff"/>
<rect x="221.00" y="142.70" width="10.00" height="1.10" fill="#fff"/>
<line x1="197.00" y1="538.00" x2="253.70" y2="538.00" stroke="#1a1a1a" stroke-width="1.9"/>
<line x1="264.00" y1="538.00" x2="320.00" y2="538.00" stroke="#1a1a1a" stroke-width="1.9"/>
<line x1="331.50" y1="538.00" x2="386.50" y2="538.00" stroke="#1a1a1a" stroke-width="1.9"/>
<line x1="187.50" y1="107.50" x2="187.50" y2="132.00" stroke="#1a1a1a" stroke-width="1.0"/>
<line x1="397.50" y1="107.50" x2="397.50" y2="132.00" stroke="#1a1a1a" stroke-width="1.0"/>
<line x1="187.50" y1="107.50" x2="397.50" y2="107.50" stroke="#1a1a1a" stroke-width="1.0"/>
<polygon points="187.50,107.20 201.80,104.40 201.80,110.00" fill="#1a1a1a"/>
<polygon points="397.50,107.20 383.50,104.40 383.50,110.00" fill="#1a1a1a"/>
<line x1="109.50" y1="134.50" x2="185.60" y2="134.50" stroke="#1a1a1a" stroke-width="1.0"/>
<line x1="109.50" y1="547.50" x2="185.60" y2="547.50" stroke="#1a1a1a" stroke-width="1.0"/>
<line x1="109.50" y1="134.50" x2="109.50" y2="313.60" stroke="#1a1a1a" stroke-width="1.0"/>
<line x1="109.50" y1="367.10" x2="109.50" y2="547.50" stroke="#1a1a1a" stroke-width="1.0"/>
<polygon points="109.50,134.60 106.90,147.40 112.10,147.40" fill="#1a1a1a"/>
<polygon points="109.50,547.20 106.90,534.00 112.10,534.00" fill="#1a1a1a"/>
<rect x="466.5" y="134.5" width="209.0" height="413.0" fill="none" stroke="#1a1a1a" stroke-width="1.05"/>
<rect x="473.5" y="141.5" width="195.0" height="399.0" fill="none" stroke="#1a1a1a" stroke-width="1.05"/>
<line x1="466.50" y1="134.50" x2="473.50" y2="141.50" stroke="#1a1a1a" stroke-width="1.2"/>
<line x1="675.50" y1="134.50" x2="668.50" y2="141.50" stroke="#1a1a1a" stroke-width="1.2"/>
<line x1="466.50" y1="547.50" x2="473.50" y2="540.50" stroke="#1a1a1a" stroke-width="1.2"/>
<line x1="675.50" y1="547.50" x2="668.50" y2="540.50" stroke="#1a1a1a" stroke-width="1.2"/>
<line x1="471.50" y1="107.50" x2="471.50" y2="164.00" stroke="#1a1a1a" stroke-width="1.0"/>
<line x1="670.50" y1="107.50" x2="670.50" y2="168.00" stroke="#1a1a1a" stroke-width="1.0"/>
<circle cx="471.50" cy="163.80" r="1.5" fill="#1a1a1a"/>
<circle cx="670.50" cy="163.80" r="1.5" fill="#1a1a1a"/>
<circle cx="471.50" cy="216.60" r="1.5" fill="#1a1a1a"/>
<circle cx="670.50" cy="216.60" r="1.5" fill="#1a1a1a"/>
<circle cx="471.50" cy="464.80" r="1.5" fill="#1a1a1a"/>
<circle cx="670.50" cy="464.80" r="1.5" fill="#1a1a1a"/>
<circle cx="471.50" cy="517.90" r="1.5" fill="#1a1a1a"/>
<circle cx="670.50" cy="517.90" r="1.5" fill="#1a1a1a"/>
<circle cx="481.80" cy="135.60" r="0.9" fill="#1a1a1a"/>
<circle cx="497.20" cy="135.60" r="0.9" fill="#1a1a1a"/>
<circle cx="645.40" cy="135.60" r="0.9" fill="#1a1a1a"/>
<circle cx="660.30" cy="135.60" r="0.9" fill="#1a1a1a"/>
<circle cx="481.60" cy="546.40" r="0.9" fill="#1a1a1a"/>
<circle cx="645.20" cy="546.40" r="0.9" fill="#1a1a1a"/>
<circle cx="660.70" cy="546.40" r="0.9" fill="#1a1a1a"/>
<circle cx="467.60" cy="149.40" r="0.8" fill="#1a1a1a"/>
<circle cx="674.40" cy="149.40" r="0.8" fill="#1a1a1a"/>
<circle cx="467.60" cy="164.40" r="0.8" fill="#1a1a1a"/>
<circle cx="674.40" cy="164.40" r="0.8" fill="#1a1a1a"/>
<circle cx="467.60" cy="518.00" r="0.8" fill="#1a1a1a"/>
<circle cx="674.40" cy="518.00" r="0.8" fill="#1a1a1a"/>
<circle cx="467.60" cy="532.00" r="0.8" fill="#1a1a1a"/>
<circle cx="674.40" cy="532.00" r="0.8" fill="#1a1a1a"/>
<circle cx="471.00" cy="337.20" r="1.4" fill="#1a1a1a"/>
<polygon points="469.60,339.60 473.20,340.60 469.60,341.80" fill="#1a1a1a"/>
<line x1="471.50" y1="107.50" x2="670.50" y2="107.50" stroke="#1a1a1a" stroke-width="1.0"/>
<polygon points="469.50,107.20 485.50,104.30 485.50,110.10" fill="#1a1a1a"/>
<polygon points="672.80,107.20 656.60,104.30 656.60,110.10" fill="#1a1a1a"/>
<path d="M562.1,151.4 L563.9,148.6 Q564.2,148.1 564.8,148.1 L580.2,148.1 Q580.8,148.1 581.1,148.6 L582.7,151.4" fill="none" stroke="#1a1a1a" stroke-width="1.2"/>
<rect x="557.2" y="151.9" width="30.5" height="20.6" rx="3.5" fill="#fff" stroke="#1a1a1a" stroke-width="1.8"/>
<rect x="559.8" y="153.8" width="25.7" height="16.7" rx="0.6" fill="none" stroke="#1a1a1a" stroke-width="1.6"/>
<line x1="559.80" y1="170.40" x2="585.50" y2="170.40" stroke="#1a1a1a" stroke-width="2.0"/>
<rect x="560.80" y="164.90" width="9.70" height="5.60" fill="#1a1a1a"/>
<rect x="574.70" y="165.10" width="9.70" height="5.40" fill="#1a1a1a"/>
<rect x="579.00" y="165.90" width="2.40" height="2.60" fill="#d8d8d8"/>
<path d="M567.6,154.3 L577.0,154.3 L577.0,156.3 L573.4,156.3 L573.4,169.6 L571.5,169.6 L571.5,156.3 L567.6,156.3 Z" fill="#fff" stroke="#1a1a1a" stroke-width="1.1"/>
<rect x="555.90" y="155.30" width="0.90" height="1.80" fill="#1a1a1a"/>
<rect x="588.10" y="155.30" width="0.90" height="1.80" fill="#1a1a1a"/>
<rect x="555.90" y="161.30" width="0.90" height="1.80" fill="#1a1a1a"/>
<rect x="588.10" y="161.30" width="0.90" height="1.80" fill="#1a1a1a"/>
<rect x="555.90" y="167.30" width="0.90" height="1.80" fill="#1a1a1a"/>
<rect x="588.10" y="167.30" width="0.90" height="1.80" fill="#1a1a1a"/>
<rect x="563.3" y="174.2" width="4.3" height="3.4" rx="1.2" fill="#1a1a1a"/>
<rect x="578.0" y="174.2" width="3.6" height="3.4" rx="1.2" fill="#1a1a1a"/>
<circle cx="564.60" cy="175.70" r="0.55" fill="#fff"/>
<circle cx="566.40" cy="175.70" r="0.55" fill="#fff"/>
<circle cx="579.80" cy="175.70" r="0.6" fill="#fff"/>
<line x1="566.00" y1="177.00" x2="566.00" y2="358.00" stroke="#1a1a1a" stroke-width="1.7"/>
<line x1="580.00" y1="177.00" x2="580.00" y2="358.00" stroke="#1a1a1a" stroke-width="1.8"/>
<rect x="563.20" y="357.10" width="4.80" height="10.70" fill="#1a1a1a"/>
<rect x="578.00" y="357.10" width="4.10" height="8.00" fill="#1a1a1a"/>
<polygon points="578.00,365.00 582.10,365.00 580.00,367.80" fill="#1a1a1a"/>
<line x1="532.50" y1="177.50" x2="562.90" y2="177.50" stroke="#1a1a1a" stroke-width="1.0"/>
<line x1="532.50" y1="367.50" x2="561.70" y2="367.50" stroke="#1a1a1a" stroke-width="1.0"/>
<line x1="532.50" y1="177.50" x2="532.50" y2="263.60" stroke="#1a1a1a" stroke-width="1.0"/>
<line x1="532.50" y1="277.80" x2="532.50" y2="367.50" stroke="#1a1a1a" stroke-width="1.0"/>
<polygon points="532.50,178.30 530.25,190.80 534.75,190.80" fill="#1a1a1a"/>
<polygon points="532.50,367.30 530.10,353.80 534.90,353.80" fill="#1a1a1a"/>
<line x1="675.50" y1="163.50" x2="755.50" y2="163.50" stroke="#1a1a1a" stroke-width="1.0"/>
<line x1="675.50" y1="517.50" x2="755.50" y2="517.50" stroke="#1a1a1a" stroke-width="1.0"/>
<line x1="755.50" y1="162.00" x2="755.50" y2="182.20" stroke="#1a1a1a" stroke-width="1.0"/>
<line x1="755.50" y1="206.00" x2="755.50" y2="517.50" stroke="#1a1a1a" stroke-width="1.0"/>
<polygon points="755.50,161.70 752.60,177.20 758.40,177.20" fill="#1a1a1a"/>
<polygon points="755.50,517.80 752.60,503.10 758.40,503.10" fill="#1a1a1a"/>
<line x1="671.00" y1="216.50" x2="709.50" y2="216.50" stroke="#1a1a1a" stroke-width="1.0"/>
<line x1="670.50" y1="465.50" x2="709.50" y2="465.50" stroke="#1a1a1a" stroke-width="1.0"/>
<line x1="709.50" y1="215.00" x2="709.50" y2="306.00" stroke="#1a1a1a" stroke-width="1.0"/>
<line x1="709.50" y1="318.50" x2="709.50" y2="465.50" stroke="#1a1a1a" stroke-width="1.0"/>
<polygon points="709.50,214.50 706.70,229.00 712.30,229.00" fill="#1a1a1a"/>
<polygon points="709.50,466.00 706.70,451.50 712.30,451.50" fill="#1a1a1a"/>
<polyline points="583.80,235.50 658.80,235.50 669.80,218.00" fill="none" stroke="#1a1a1a" stroke-width="1.5"/>
<polyline points="599.00,356.30 646.90,356.30 686.50,330.40" fill="none" stroke="#1a1a1a" stroke-width="1.0"/>
<polygon points="668.60,341.40 662.48,343.01 664.68,346.36" fill="#1a1a1a"/>
<polygon points="675.20,337.10 681.32,335.49 679.12,332.14" fill="#1a1a1a"/>
<circle cx="671.10" cy="344.10" r="1.5" fill="#1a1a1a"/>
<polygon points="671.30,214.60 663.85,222.24 667.00,224.37" fill="#1a1a1a"/>
<text x="3.24" y="26.70" font-size="20.5" fill="#595959" text-anchor="start" font-weight="normal" stroke="#595959" stroke-width="0.45" textLength="79.61" lengthAdjust="spacingAndGlyphs">MODULE</text>
<text x="87.19" y="26.70" font-size="20.5" fill="#595959" text-anchor="start" font-weight="normal" stroke="#595959" stroke-width="0.45" textLength="87.15" lengthAdjust="spacingAndGlyphs">DIAGRAM</text>
<text x="256.21" y="102.80" font-size="12.5" fill="#4a4a4a" text-anchor="start" font-weight="normal" stroke="#4a4a4a" stroke-width="0.25" textLength="72.29" lengthAdjust="spacingAndGlyphs">992±1[39.06]</text>
<text x="534.74" y="102.90" font-size="12.5" fill="#4a4a4a" text-anchor="start" font-weight="normal" stroke="#4a4a4a" stroke-width="0.25" textLength="73.37" lengthAdjust="spacingAndGlyphs">942±1[37.09]</text>
<text x="67.08" y="329.90" font-size="12" fill="#4a4a4a" text-anchor="start" font-weight="normal" stroke="#4a4a4a" stroke-width="0.2" textLength="78.39" lengthAdjust="spacingAndGlyphs">1956±1[77.01]</text>
<text x="65.58" y="343.50" font-size="12" fill="#4a4a4a" text-anchor="start" font-weight="normal" stroke="#4a4a4a" stroke-width="0.2" textLength="80.62" lengthAdjust="spacingAndGlyphs">includes screw</text>
<text x="60.97" y="357.10" font-size="12" fill="#4a4a4a" text-anchor="start" font-weight="normal" stroke="#4a4a4a" stroke-width="0.2" textLength="90.49" lengthAdjust="spacingAndGlyphs">head projections</text>
<text x="509.70" y="273.70" font-size="10.5" fill="#4a4a4a" text-anchor="start" font-weight="normal" stroke="#4a4a4a" stroke-width="0.2" textLength="49.44" lengthAdjust="spacingAndGlyphs">900[35.43]</text>
<text x="582.20" y="230.60" font-size="10.5" fill="#4a4a4a" text-anchor="start" font-weight="normal" stroke="#4a4a4a" stroke-width="0.2" textLength="76.22" lengthAdjust="spacingAndGlyphs">9[0.35]x14[0.55]</text>
<text x="597.48" y="245.50" font-size="10.5" fill="#4a4a4a" text-anchor="start" font-weight="normal" stroke="#4a4a4a" stroke-width="0.2" textLength="44.03" lengthAdjust="spacingAndGlyphs">Mounting</text>
<text x="606.26" y="256.20" font-size="10.5" fill="#4a4a4a" text-anchor="start" font-weight="normal" stroke="#4a4a4a" stroke-width="0.2" textLength="26.05" lengthAdjust="spacingAndGlyphs">holes</text>
<text x="601.70" y="267.80" font-size="10.5" fill="#4a4a4a" text-anchor="start" font-weight="normal" stroke="#4a4a4a" stroke-width="0.2" textLength="36.10" lengthAdjust="spacingAndGlyphs">8places</text>
<text x="718.21" y="200.90" font-size="12.5" fill="#4a4a4a" text-anchor="start" font-weight="normal" stroke="#4a4a4a" stroke-width="0.2" textLength="65.53" lengthAdjust="spacingAndGlyphs">1676[65.98]</text>
<text x="680.26" y="314.80" font-size="10.5" fill="#4a4a4a" text-anchor="start" font-weight="normal" stroke="#4a4a4a" stroke-width="0.2" textLength="56.97" lengthAdjust="spacingAndGlyphs">1176[46.30]</text>
<text x="602.20" y="352.00" font-size="10.5" fill="#4a4a4a" text-anchor="start" font-weight="normal" stroke="#4a4a4a" stroke-width="0.2" textLength="39.88" lengthAdjust="spacingAndGlyphs">Ø5[0.20]</text>
<text x="598.30" y="367.00" font-size="10.5" fill="#4a4a4a" text-anchor="start" font-weight="normal" stroke="#4a4a4a" stroke-width="0.2" textLength="48.85" lengthAdjust="spacingAndGlyphs">Grounding</text>
<text x="608.98" y="378.10" font-size="10.5" fill="#4a4a4a" text-anchor="start" font-weight="normal" stroke="#4a4a4a" stroke-width="0.2" textLength="25.74" lengthAdjust="spacingAndGlyphs">holes</text>
<text x="604.60" y="388.70" font-size="10.5" fill="#4a4a4a" text-anchor="start" font-weight="normal" stroke="#4a4a4a" stroke-width="0.2" textLength="36.50" lengthAdjust="spacingAndGlyphs">2places</text>
<text x="728.52" y="80.60" font-size="10" fill="#4a4a4a" text-anchor="start" font-weight="normal" stroke="#4a4a4a" stroke-width="0.35" textLength="161.70" lengthAdjust="spacingAndGlyphs">Dimensions in brackets are in inches.</text>
<text x="728.51" y="93.60" font-size="10" fill="#4a4a4a" text-anchor="start" font-weight="normal" stroke="#4a4a4a" stroke-width="0.35" textLength="193.52" lengthAdjust="spacingAndGlyphs">Un-bracketed dimensions are in millimeters.</text>
<text x="728.50" y="106.80" font-size="10" fill="#4a4a4a" text-anchor="start" font-weight="normal" stroke="#4a4a4a" stroke-width="0.35" textLength="56.23" lengthAdjust="spacingAndGlyphs">Unit: mm[in.]</text>
<text x="17.90" y="568.80" font-size="13.5" fill="#4f4f4f" text-anchor="start" font-weight="normal" stroke="#4f4f4f" stroke-width="0.55" textLength="78.82" lengthAdjust="spacingAndGlyphs">*Specications</text>
<text x="100.70" y="568.80" font-size="13.5" fill="#4f4f4f" text-anchor="start" font-weight="normal" stroke="#4f4f4f" stroke-width="0.55" textLength="43.28" lengthAdjust="spacingAndGlyphs">subject</text>
<text x="147.00" y="568.80" font-size="13.5" fill="#4f4f4f" text-anchor="start" font-weight="normal" stroke="#4f4f4f" stroke-width="0.55" textLength="12.49" lengthAdjust="spacingAndGlyphs">to</text>
<text x="161.40" y="568.80" font-size="13.5" fill="#4f4f4f" text-anchor="start" font-weight="normal" stroke="#4f4f4f" stroke-width="0.55" textLength="53.40" lengthAdjust="spacingAndGlyphs">technical</text>
<text x="217.70" y="568.80" font-size="13.5" fill="#4f4f4f" text-anchor="start" font-weight="normal" stroke="#4f4f4f" stroke-width="0.55" textLength="48.74" lengthAdjust="spacingAndGlyphs">changes</text>
<text x="269.80" y="568.80" font-size="13.5" fill="#4f4f4f" text-anchor="start" font-weight="normal" stroke="#4f4f4f" stroke-width="0.55" textLength="21.71" lengthAdjust="spacingAndGlyphs">and</text>
<text x="294.40" y="568.80" font-size="13.5" fill="#4f4f4f" text-anchor="start" font-weight="normal" stroke="#4f4f4f" stroke-width="0.55" textLength="32.58" lengthAdjust="spacingAndGlyphs">tests.</text>
<text x="328.12" y="568.80" font-size="13.5" fill="#4f4f4f" text-anchor="start" font-weight="normal" stroke="#4f4f4f" stroke-width="0.55" textLength="72.29" lengthAdjust="spacingAndGlyphs">SOLARLAND</text>
<text x="402.87" y="568.80" font-size="13.5" fill="#4f4f4f" text-anchor="start" font-weight="normal" stroke="#4f4f4f" stroke-width="0.55" textLength="48.01" lengthAdjust="spacingAndGlyphs">reserves</text>
<text x="455.00" y="568.80" font-size="13.5" fill="#4f4f4f" text-anchor="start" font-weight="normal" stroke="#4f4f4f" stroke-width="0.55" textLength="18.88" lengthAdjust="spacingAndGlyphs">the</text>
<text x="476.24" y="568.80" font-size="13.5" fill="#4f4f4f" text-anchor="start" font-weight="normal" stroke="#4f4f4f" stroke-width="0.55" textLength="25.26" lengthAdjust="spacingAndGlyphs">right</text>
<text x="505.30" y="568.80" font-size="13.5" fill="#4f4f4f" text-anchor="start" font-weight="normal" stroke="#4f4f4f" stroke-width="0.55" textLength="10.33" lengthAdjust="spacingAndGlyphs">of</text>
<text x="518.52" y="568.80" font-size="13.5" fill="#4f4f4f" text-anchor="start" font-weight="normal" stroke="#4f4f4f" stroke-width="0.55" textLength="19.50" lengthAdjust="spacingAndGlyphs">nal</text>
<text x="540.84" y="568.80" font-size="13.5" fill="#4f4f4f" text-anchor="start" font-weight="normal" stroke="#4f4f4f" stroke-width="0.55" textLength="87.25" lengthAdjust="spacingAndGlyphs">interpretation.</text>
</svg>
</body></html>
